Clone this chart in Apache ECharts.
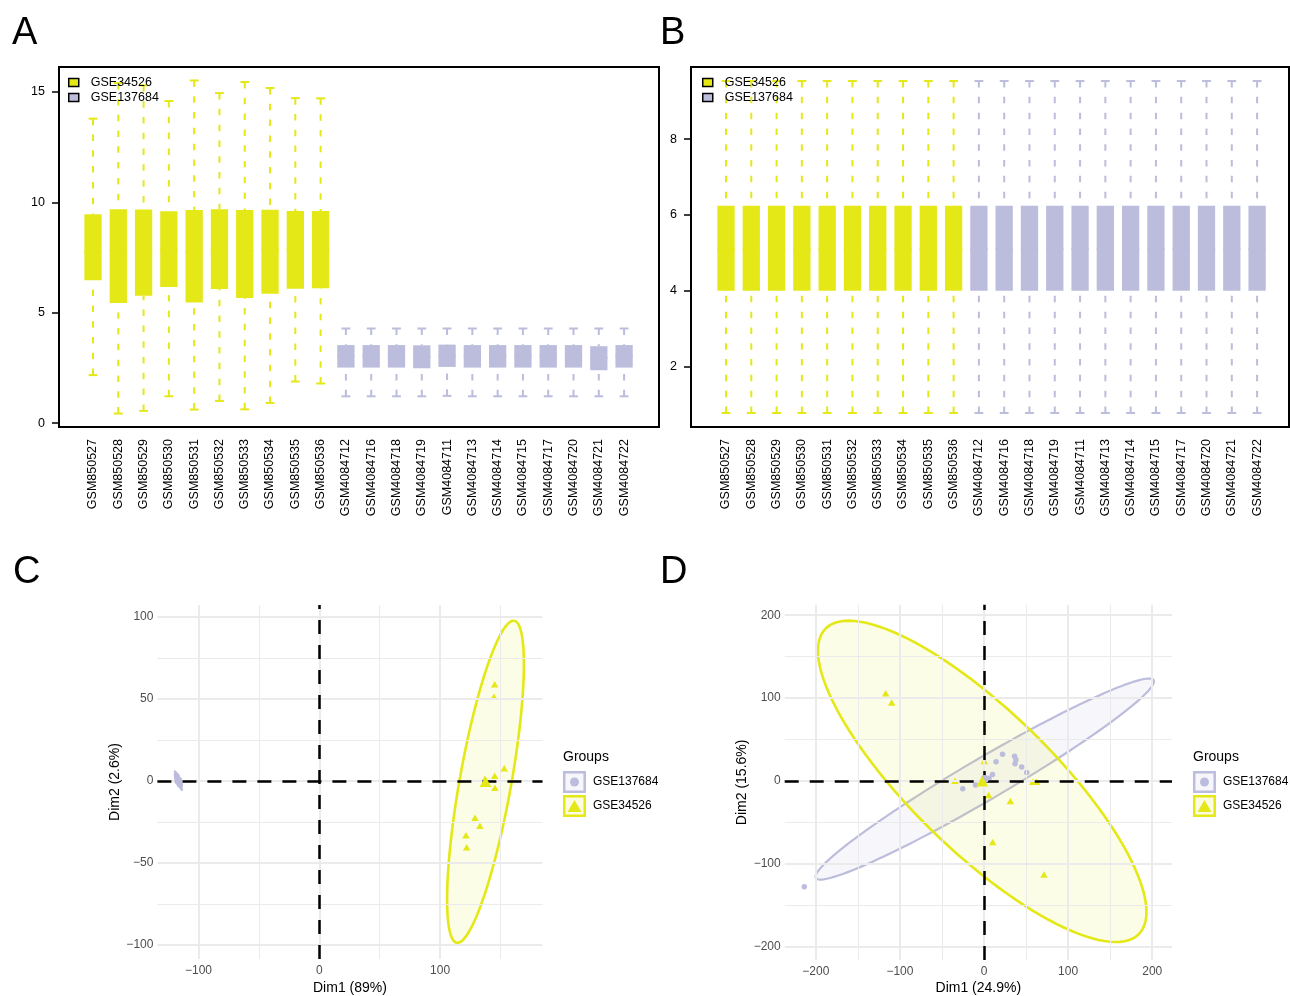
<!DOCTYPE html>
<html>
<head>
<meta charset="utf-8">
<script src="https://cdn.jsdelivr.net/npm/echarts@6/dist/echarts.min.js"></script>
<style>
html,body{margin:0;padding:0;background:#fff;}
#main{width:1290px;height:996px;}
</style>
</head>
<body>
<div id="main"></div>
<script>
var samples = ['GSM850527','GSM850528','GSM850529','GSM850530','GSM850531','GSM850532','GSM850533','GSM850534','GSM850535','GSM850536',
  'GSM4084712','GSM4084716','GSM4084718','GSM4084719','GSM4084711','GSM4084713','GSM4084714','GSM4084715','GSM4084717','GSM4084720','GSM4084721','GSM4084722'];
var nYellow = 10; // first 10 samples are GSE34526

// panel A, raw expression (whisker ends, quartiles, median)
var rawLow  = [2.18,0.44,0.56,1.22,0.62,1.01,0.63,0.92,1.89,1.80, 1.22,1.22,1.22,1.22,1.24,1.22,1.22,1.22,1.22,1.22,1.22,1.22];
var rawQ1   = [6.47,5.44,5.77,6.17,5.47,6.08,5.67,5.86,6.09,6.11, 2.52,2.52,2.52,2.49,2.55,2.52,2.52,2.52,2.52,2.52,2.40,2.52];
var rawMed  = [7.75,7.80,7.82,7.85,7.78,7.90,7.80,7.85,7.88,7.86, 3.02,3.03,3.02,3.00,3.05,3.02,3.03,3.02,3.02,3.03,2.95,3.02];
var rawQ3   = [9.46,9.69,9.68,9.60,9.66,9.69,9.66,9.67,9.61,9.61, 3.54,3.54,3.54,3.53,3.56,3.54,3.54,3.54,3.54,3.54,3.49,3.54];
var rawHigh = [13.79,15.40,15.30,14.59,15.52,14.95,15.45,15.18,14.72,14.71, 4.29,4.29,4.29,4.29,4.29,4.29,4.29,4.29,4.29,4.29,4.29,4.29];
var rawTicks = [0,5,10,15];

// panel B, normalized
var normLow  = [0.78,0.78,0.78,0.78,0.78,0.78,0.78,0.78,0.78,0.78,0.78,0.78,0.78,0.78,0.78,0.78,0.78,0.78,0.78,0.78,0.78,0.78];
var normQ1   = [4.00,4.00,4.00,4.00,4.00,4.00,4.00,4.00,4.00,4.00,4.00,4.00,4.00,4.00,4.00,4.00,4.00,4.00,4.00,4.00,4.00,4.00];
var normMed  = [5.10,5.10,5.10,5.10,5.10,5.10,5.10,5.10,5.10,5.10,5.10,5.10,5.10,5.10,5.10,5.10,5.10,5.10,5.10,5.10,5.10,5.10];
var normQ3   = [6.24,6.24,6.24,6.24,6.24,6.24,6.24,6.24,6.24,6.24,6.24,6.24,6.24,6.24,6.24,6.24,6.24,6.24,6.24,6.24,6.24,6.24];
var normHigh = [9.53,9.53,9.53,9.53,9.53,9.53,9.53,9.53,9.53,9.53,9.53,9.53,9.53,9.53,9.53,9.53,9.53,9.53,9.53,9.53,9.53,9.53];
var normTicks = [2,4,6,8];

// panel C, PCA before batch correction
var cPurX = [-118.2,-117.9,-117.5,-117.7,-116.9,-116.5,-116.8,-116.1,-115.8,-116.0,-115.3,-115.1];
var cPurY = [3.5,2.8,2.3,1.6,1.1,0.4,-0.2,-0.6,-1.3,-1.7,-2.0,-2.6];
var cYelX = [145.2,144.6,153.1,145.2,137.2,145.4,128.9,133.0,121.4,122.0];
var cYelY = [59.1,51.5,7.9,3.2,1.4,-4.1,-22.4,-27.2,-33.1,-40.4];
var cXTicks = [-100,0,100], cXMinor = [-50,50,150];
var cYTicks = [-100,-50,0,50,100], cYMinor = [-75,-25,25,75];

// panel D, PCA after batch correction
var dPurX = [22.0,14.3,36.3,38.0,36.9,44.8,50.8,10.1,-25.3,-10.1,-213.7,6.0];
var dPurY = [32.1,23.1,29.7,25.5,20.7,16.8,9.9,7.5,-9.6,-5.0,-127.8,3.0];
var dYelX = [-116.9,-109.8,0.4,-34.5,57.9,62.6,5.5,31.3,10.3,71.3];
var dYelY = [105.7,94.6,24.0,0.0,-1.2,-1.2,-17.2,-24.4,-73.9,-113.0];
var dTicks = [-200,-100,0,100,200], dMinor = [-150,-50,50,150];

var YEL = '#E5E817', PUR = '#BCBDDC';
var F95 = {9: 4.2565, 11: 3.9823}; // qf(0.95, 2, n-1)

function rows(lo, q1, md, q3, hi, from, to) {
  var out = [];
  for (var i = from; i < to; i++) out.push([i, lo[i], q1[i], md[i], q3[i], hi[i]]);
  return out;
}
function mean(a) { var s = 0; for (var i = 0; i < a.length; i++) s += a[i]; return s / a.length; }
function pairs(xs, ys) { return xs.map(function (x, i) { return [x, ys[i]]; }); }
function ellipse(xs, ys) {
  var n = xs.length, mx = mean(xs), my = mean(ys), sxx = 0, syy = 0, sxy = 0;
  for (var i = 0; i < n; i++) {
    sxx += (xs[i] - mx) * (xs[i] - mx); syy += (ys[i] - my) * (ys[i] - my); sxy += (xs[i] - mx) * (ys[i] - my);
  }
  sxx /= n - 1; syy /= n - 1; sxy /= n - 1;
  var r = Math.sqrt(2 * F95[n - 1]);
  var a = Math.sqrt(sxx), b = sxy / a, c = Math.sqrt(syy - b * b);
  var pts = [];
  for (var k = 0; k <= 120; k++) {
    var t = 2 * Math.PI * k / 120, u = Math.cos(t), v = Math.sin(t);
    pts.push([mx + r * u * a, my + r * (u * b + v * c)]);
  }
  return pts;
}

function renderBox(params, api) {
  var x = api.value(0);
  var band = api.size([1, 0])[0];
  var bw = band * 0.684, sw = band * 0.35;
  var lo = api.coord([x, api.value(1)]), q1 = api.coord([x, api.value(2)]), md = api.coord([x, api.value(3)]),
      q3 = api.coord([x, api.value(4)]), hi = api.coord([x, api.value(5)]);
  var col = api.visual('color'), cx = lo[0];
  var dash = { stroke: col, lineWidth: 2, lineDash: [6.5, 9.3] };
  var solid = { stroke: col, lineWidth: 2 };
  return {
    type: 'group', children: [
      { type: 'line', shape: { x1: cx, y1: hi[1], x2: cx, y2: q3[1] }, style: dash },
      { type: 'line', shape: { x1: cx, y1: lo[1], x2: cx, y2: q1[1] }, style: dash },
      { type: 'line', shape: { x1: cx - sw / 2, y1: hi[1], x2: cx + sw / 2, y2: hi[1] }, style: solid },
      { type: 'line', shape: { x1: cx - sw / 2, y1: lo[1], x2: cx + sw / 2, y2: lo[1] }, style: solid },
      { type: 'rect', shape: { x: cx - bw / 2, y: q3[1], width: bw, height: q1[1] - q3[1] }, style: { fill: col } },
      { type: 'line', shape: { x1: cx - bw / 2, y1: md[1], x2: cx + bw / 2, y2: md[1] }, style: solid }
    ]
  };
}

function ellipseSeries(name, pts, color, fill, width, axis) {
  return {
    name: name, type: 'custom', xAxisIndex: axis, yAxisIndex: axis, z: 2, silent: true,
    data: pts,
    renderItem: function (params, api) {
      if (params.dataIndex !== 0) return;
      return {
        type: 'polygon', shape: { points: pts.map(function (p) { return api.coord(p); }) },
        style: { fill: fill, stroke: color, lineWidth: width }
      };
    }
  };
}

function gridSeries(axis, xMaj, xMin, yMaj, yMin) {
  var d = [];
  xMaj.forEach(function (v) { d.push({ xAxis: v, lineStyle: { color: '#EBEBEB', width: 2, type: 'solid' } }); });
  xMin.forEach(function (v) { d.push({ xAxis: v, lineStyle: { color: '#EBEBEB', width: 1, type: 'solid' } }); });
  yMaj.forEach(function (v) { d.push({ yAxis: v, lineStyle: { color: '#EBEBEB', width: 2, type: 'solid' } }); });
  yMin.forEach(function (v) { d.push({ yAxis: v, lineStyle: { color: '#EBEBEB', width: 1, type: 'solid' } }); });
  return {
    type: 'scatter', xAxisIndex: axis, yAxisIndex: axis, data: [], z: 1, silent: true,
    markLine: { silent: true, symbol: ['none', 'none'], label: { show: false }, data: d, animation: false }
  };
}

function zeroSeries(axis) {
  var ls = { color: '#000', width: 2.5, type: [14, 11] };
  return {
    type: 'scatter', xAxisIndex: axis, yAxisIndex: axis, data: [], z: 3, silent: true,
    markLine: { silent: true, symbol: ['none', 'none'], label: { show: false }, animation: false,
      data: [{ xAxis: 0, lineStyle: ls }, { yAxis: 0, lineStyle: ls }] }
  };
}

function pointSeries(xs, ys, symbol, size, color, axis) {
  return { type: 'scatter', xAxisIndex: axis, yAxisIndex: axis, data: pairs(xs, ys), symbol: symbol,
    symbolSize: size, itemStyle: { color: color, opacity: 1 }, z: 4, silent: true };
}

function meanSeries(xs, ys, symbol, size, color, axis) {
  return { type: 'scatter', xAxisIndex: axis, yAxisIndex: axis, data: [[mean(xs), mean(ys)]], symbol: symbol,
    symbolSize: size, itemStyle: { color: color, opacity: 1 }, z: 5, silent: true };
}

var catAxis = function (grid) {
  return {
    gridIndex: grid, type: 'category', data: samples, boundaryGap: true,
    axisLine: { show: false },
    axisTick: { alignWithLabel: true, length: 6, lineStyle: { color: '#000', width: 1.5 } },
    axisLabel: { rotate: 90, interval: 0, fontSize: 12.5, color: '#000', margin: 12 },
    splitLine: { show: false }
  };
};
var frameY = function (grid, min, max, ticks) {
  return {
    gridIndex: grid, type: 'value', min: min, max: max,
    axisLine: { show: false },
    axisTick: { customValues: ticks, length: 7, lineStyle: { color: '#000', width: 1.5 } },
    axisLabel: { customValues: ticks, fontSize: 12.5, color: '#000', margin: 14 },
    splitLine: { show: false }
  };
};
var minus = function (v) { return String(v).replace('-', '\u2212'); };
var pcaAxis = function (grid, min, max, ticks, name, gap, margin) {
  return {
    gridIndex: grid, type: 'value', min: min, max: max,
    axisLine: { show: false },
    axisTick: { customValues: ticks, length: 4, lineStyle: { color: '#000', width: 2 } },
    axisLabel: { customValues: ticks, fontSize: 12, color: '#4D4D4D', margin: margin, formatter: minus },
    splitLine: { show: false },
    name: name, nameLocation: 'middle', nameGap: gap,
    nameTextStyle: { fontSize: 14, color: '#000' }
  };
};

function legendKey(x, y, label, shape, color) {
  var items = [
    { type: 'rect', shape: { x: x + 1.2, y: y + 1.2, width: 20.5, height: 19.5 },
      style: { fill: shape === 'circle' ? 'rgba(188,189,220,0.12)' : 'rgba(229,232,23,0.12)', stroke: color, lineWidth: 2.5 } },
    { type: 'text', style: { x: x + 30, y: y + 11, text: label, fill: '#000', fontSize: 12, fontFamily: 'Liberation Sans',
      verticalAlign: 'middle' } }
  ];
  var cx = x + 11.5, cy = y + 11;
  if (shape === 'circle') items.push({ type: 'circle', shape: { cx: cx, cy: cy, r: 4.5 }, style: { fill: color } });
  else items.push({ type: 'polygon', shape: { points: [[cx, cy - 6], [cx - 7, cy + 6], [cx + 7, cy + 6]] }, style: { fill: color } });
  return items;
}
function panelLetter(t, x, y) {
  return { type: 'text', style: { x: x, y: y, text: t, fill: '#000', fontSize: 38, fontFamily: 'Liberation Sans' } };
}

var graphics = [panelLetter('A', 12, 15), panelLetter('B', 660, 15), panelLetter('C', 13, 554), panelLetter('D', 660, 554),
  { type: 'text', style: { x: 563, y: 757, text: 'Groups', fill: '#000', fontSize: 14, fontFamily: 'Liberation Sans', verticalAlign: 'middle' } },
  { type: 'text', style: { x: 1193, y: 757, text: 'Groups', fill: '#000', fontSize: 14, fontFamily: 'Liberation Sans', verticalAlign: 'middle' } }]
  .concat(legendKey(563, 771, 'GSE137684', 'circle', PUR), legendKey(563, 795, 'GSE34526', 'triangle', YEL),
          legendKey(1193, 771, 'GSE137684', 'circle', PUR), legendKey(1193, 795, 'GSE34526', 'triangle', YEL));

var legendStyle = function (left) {
  return {
    left: left, top: 75, padding: 0, orient: 'vertical', itemWidth: 10, itemHeight: 8, itemGap: 0, icon: 'rect',
    data: ['GSE34526', 'GSE137684'], selectedMode: false,
    itemStyle: { borderColor: '#000', borderWidth: 1.5 },
    textStyle: { fontSize: 12.5, color: '#000', lineHeight: 15, padding: [0, 0, 0, 7] }
  };
};

var chart = echarts.init(document.getElementById('main'));
chart.setOption({
  animation: false,
  backgroundColor: '#fff',
  textStyle: { fontFamily: 'Liberation Sans, Arial, sans-serif' },
  legend: [legendStyle(68), legendStyle(702)],
  grid: [
    { left: 59, top: 67, width: 600, height: 360, show: true, borderColor: '#000', borderWidth: 2, backgroundColor: 'transparent' },
    { left: 80.355, top: 67, width: 556.38, height: 360 },
    { left: 691, top: 67, width: 598, height: 360, show: true, borderColor: '#000', borderWidth: 2, backgroundColor: 'transparent' },
    { left: 713.355, top: 67, width: 556.38, height: 360 },
    { left: 157.4, top: 605, width: 385.1, height: 354.5 },
    { left: 784.7, top: 604.7, width: 387.3, height: 358.3 }
  ],
  xAxis: [
    { gridIndex: 0, type: 'value', show: false, min: 0, max: 1 },
    catAxis(1),
    { gridIndex: 2, type: 'value', show: false, min: 0, max: 1 },
    catAxis(3),
    pcaAxis(4, -134, 184.8, cXTicks, 'Dim1 (89%)', 22, 6),
    pcaAxis(5, -237, 223.5, dTicks, 'Dim1 (24.9%)', 21, 6)
  ],
  yAxis: [
    frameY(0, -0.17, 16.13, rawTicks),
    { gridIndex: 1, type: 'value', show: false, min: -0.17, max: 16.13 },
    frameY(2, 0.41, 9.9, normTicks),
    { gridIndex: 3, type: 'value', show: false, min: 0.41, max: 9.9 },
    pcaAxis(4, -108.5, 107.4, cYTicks, 'Dim2 (2.6%)', 35, 4),
    pcaAxis(5, -216.4, 212.7, dTicks, 'Dim2 (15.6%)', 36, 4)
  ],
  graphic: graphics,
  series: [
    { name: 'GSE34526', type: 'custom', xAxisIndex: 1, yAxisIndex: 1, itemStyle: { color: YEL }, silent: true,
      encode: { x: 0, y: [1, 2, 3, 4, 5] }, renderItem: renderBox, data: rows(rawLow, rawQ1, rawMed, rawQ3, rawHigh, 0, nYellow) },
    { name: 'GSE137684', type: 'custom', xAxisIndex: 1, yAxisIndex: 1, itemStyle: { color: PUR }, silent: true,
      encode: { x: 0, y: [1, 2, 3, 4, 5] }, renderItem: renderBox, data: rows(rawLow, rawQ1, rawMed, rawQ3, rawHigh, nYellow, samples.length) },
    { name: 'GSE34526', type: 'custom', xAxisIndex: 3, yAxisIndex: 3, itemStyle: { color: YEL }, silent: true,
      encode: { x: 0, y: [1, 2, 3, 4, 5] }, renderItem: renderBox, data: rows(normLow, normQ1, normMed, normQ3, normHigh, 0, nYellow) },
    { name: 'GSE137684', type: 'custom', xAxisIndex: 3, yAxisIndex: 3, itemStyle: { color: PUR }, silent: true,
      encode: { x: 0, y: [1, 2, 3, 4, 5] }, renderItem: renderBox, data: rows(normLow, normQ1, normMed, normQ3, normHigh, nYellow, samples.length) },

    gridSeries(4, cXTicks, cXMinor, cYTicks, cYMinor),
    ellipseSeries('c-pur', ellipse(cPurX, cPurY), PUR, 'rgba(188,189,220,0.12)', 2.2, 4),
    ellipseSeries('c-yel', ellipse(cYelX, cYelY), YEL, 'rgba(229,232,23,0.1)', 2.6, 4),
    zeroSeries(4),
    pointSeries(cPurX, cPurY, 'circle', 5.5, PUR, 4),
    pointSeries(cYelX, cYelY, 'triangle', [7.5, 6.5], YEL, 4),
    meanSeries(cPurX, cPurY, 'circle', 8, PUR, 4),
    meanSeries(cYelX, cYelY, 'triangle', [12, 10.5], YEL, 4),

    gridSeries(5, dTicks, dMinor, dTicks, dMinor),
    ellipseSeries('d-pur', ellipse(dPurX, dPurY), PUR, 'rgba(188,189,220,0.12)', 2.2, 5),
    ellipseSeries('d-yel', ellipse(dYelX, dYelY), YEL, 'rgba(229,232,23,0.1)', 2.6, 5),
    zeroSeries(5),
    pointSeries(dPurX, dPurY, 'circle', 5.5, PUR, 5),
    pointSeries(dYelX, dYelY, 'triangle', [7.5, 6.5], YEL, 5),
    meanSeries(dPurX, dPurY, 'circle', 8, PUR, 5),
    meanSeries(dYelX, dYelY, 'triangle', [12, 10.5], YEL, 5)
  ]
});
</script>
</body>
</html>
